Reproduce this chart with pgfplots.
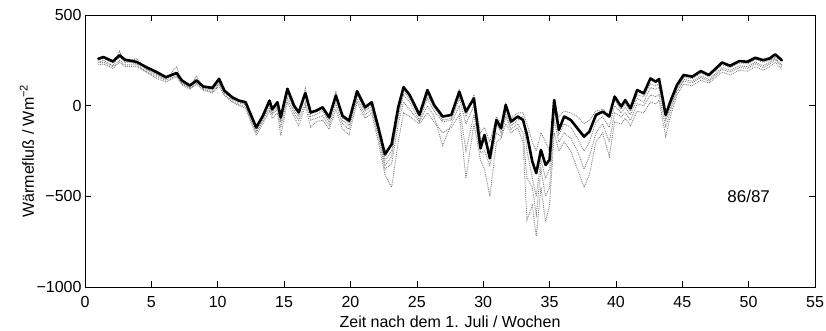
\documentclass[border=0pt]{standalone}
\usepackage{pgfplots}
\usepackage{pgfplotstable}
\pgfplotsset{compat=1.18}
\usepackage{fontspec}
\setmainfont{Liberation Sans}
\pgfplotstableread{
x b g1 g2 g3 g4
1.0 259 240 225 250 235
1.4 268 250 230 262 240
2.1 244 220 205 235 215
2.6 278 300 240 265 250
3.0 254 235 215 245 225
3.9 241 260 215 230 225
4.6 213 200 185 205 190
5.4 185 170 150 175 160
6.1 157 145 130 150 140
6.9 180 215 160 175 165
7.3 139 125 115 130 120
7.9 111 100 90 105 95
8.4 139 165 120 135 125
8.9 106 95 85 100 90
9.6 98 85 70 90 75
10.1 148 130 110 140 120
10.5 83 70 55 75 60
11.1 46 35 20 40 25
11.6 28 15 0 20 5
12.1 19 5 -15 10 -5
12.9 -120 -140 -165 -130 -150
13.4 -56 -75 -100 -65 -85
13.9 28 5 -30 15 -10
14.1 -19 -40 -70 -30 -50
14.5 19 -5 -40 5 -20
14.75 -65 -90 -165 -80 -120
15.25 93 70 20 80 40
15.75 0 -25 -60 -10 -40
16.1 -37 -60 -110 -45 -80
16.6 70 95 0 55 20
17.0 -37 -60 -120 -45 -80
17.4 -28 -50 -90 -35 -70
17.9 -9 -30 -80 -20 -55
18.4 -65 -90 -130 -75 -110
18.9 56 80 -20 40 10
19.4 -56 -80 -130 -65 -100
19.9 -83 -110 -160 -95 -130
20.5 80 60 20 70 40
21.1 -9 -30 -70 -20 -50
21.6 19 -5 -40 5 -20
22.1 -120 -150 -200 -135 -170
22.6 -269 -300 -380 -330 -350
23.1 -213 -250 -450 -280 -320
23.6 -9 -60 -200 -40 -100
24.0 102 60 -40 80 20
24.45 60 20 -60 40 -20
25.2 -51 -80 -100 -60 -90
25.8 86 40 -40 60 0
26.3 4 -30 -90 -10 -60
26.95 -60 -90 -150 -80 -220
27.6 -51 -80 -120 -70 -100
28.2 77 40 -50 90 0
28.7 -33 -100 -400 -60 -250
29.3 40 0 -100 60 -50
29.8 -235 -180 -300 -150 -260
30.1 -161 -200 -350 -120 -250
30.5 -290 -250 -500 -200 -330
31.0 -79 -100 -200 -60 -150
31.35 -125 -150 -180 -100 -170
31.7 4 -40 -100 10 -60
32.1 -88 -110 -150 -70 -130
32.6 -60 -80 -120 -40 -100
33.0 -79 -60 -200 -40 -150
33.3 -161 -250 -630 -100 -400
33.7 -308 -400 -550 -200 -450
34.0 -372 -500 -720 -250 -600
34.35 -244 -300 -450 -150 -350
34.7 -327 -400 -640 -200 -500
35.0 -299 -350 -550 -250 -450
35.35 31 -20 -150 0 -80
35.7 -134 -160 -250 -60 -200
36.1 -60 -100 -200 -30 -150
36.6 -79 -120 -250 -40 -180
37.1 -125 -180 -350 -60 -250
37.6 -171 -250 -450 -100 -350
38.0 -143 -200 -380 -80 -280
38.5 -51 -90 -200 -30 -150
39.0 -33 -60 -150 -20 -100
39.5 -60 -120 -280 -50 -200
39.9 50 0 -90 30 -40
40.4 -5 -40 -100 -20 -60
40.7 31 -10 -70 10 -40
41.1 -15 -50 -110 -30 -80
41.6 86 40 -30 60 10
42.1 68 20 -40 50 0
42.6 150 100 20 120 60
43.0 132 90 10 110 50
43.25 147 100 30 120 60
43.75 -51 -80 -170 -60 -120
44.1 22 -10 -60 10 -30
44.6 114 90 60 100 80
45.1 169 145 120 155 135
45.75 160 135 110 150 125
46.4 191 165 140 180 155
47.0 169 145 125 160 135
48.0 238 210 185 225 200
48.6 220 195 170 210 185
49.3 246 220 195 235 210
49.9 242 215 190 230 205
50.5 264 240 215 255 230
51.1 251 220 195 240 210
51.6 261 240 215 250 230
52.0 283 260 240 270 255
52.5 251 225 200 240 215
}\data
\begin{document}
\begin{tikzpicture}
\begin{axis}[
  name=ax,
  scale only axis,
  width=730pt, height=272pt,
  xmin=0, xmax=55, ymin=-1000, ymax=500,
  xtick={0,5,...,55},
  ytick={-1000,-500,0,500},
  yticklabels={−1000,−500,0,500},
  /pgf/number format/assume math mode=true,
  tick align=inside,
  major tick length=6pt,
  tick style={black, line width=0.6pt},
  axis line style={line width=0.7pt},
  tick label style={font=\fontsize{16}{18}\selectfont},
  label style={font=\fontsize{16}{18}\selectfont},
  xticklabel style={anchor=center, yshift=-15pt},
  xlabel={Zeit nach dem 1. Juli / Wochen},
  ylabel={Wärmefluß / Wm\textsuperscript{−2}},
  xlabel style={at={(axis description cs:0.5,-0.129)}, anchor=center},
  ylabel style={at={(axis description cs:-0.0795,0.5)}, anchor=center},
]
\addplot[black!50, densely dotted, line width=0.9pt] table[x=x, y=g1] {\data};
\addplot[black!50, densely dotted, line width=0.9pt] table[x=x, y=g2] {\data};
\addplot[black!50, densely dotted, line width=0.9pt] table[x=x, y=g3] {\data};
\addplot[black!50, densely dotted, line width=0.9pt] table[x=x, y=g4] {\data};
\addplot[black, line width=2.6pt, line join=round, line cap=round] table[x=x, y=b] {\data};
\node[font=\fontsize{17}{19}\selectfont] at (axis cs:50,-500) {86/87};
\end{axis}
\pgfresetboundingbox
\useasboundingbox ([shift={(-85pt,-44pt)}]ax.south west) rectangle ([shift={(11pt,15pt)}]ax.north east);
\end{tikzpicture}
\end{document}
